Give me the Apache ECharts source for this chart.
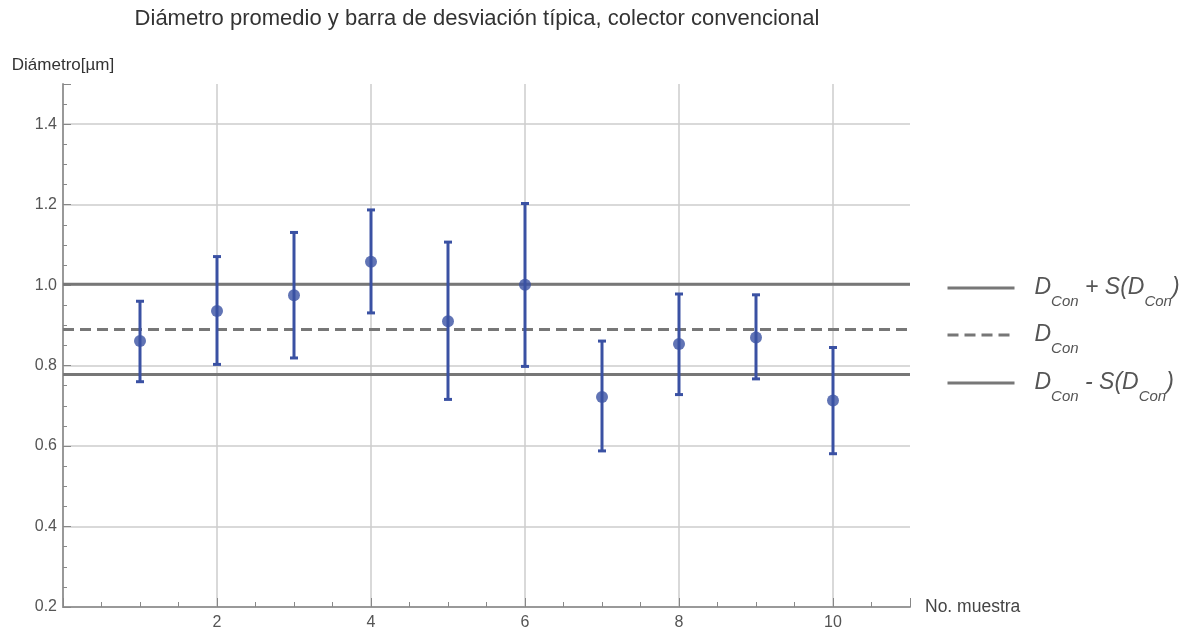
<!DOCTYPE html>
<html>
<head>
<meta charset="utf-8">
<script src="https://cdn.jsdelivr.net/npm/echarts@6/dist/echarts.min.js"></script>
<style>
html,body{margin:0;padding:0;background:#fff;}
#chart{width:1191px;height:631px;}
</style>
</head>
<body>
<div id="chart"></div>
<script>
// ---- data ----
const samples = [1, 2, 3, 4, 5, 6, 7, 8, 9, 10];
const means   = [0.861, 0.936, 0.975, 1.058, 0.910, 1.001, 0.722, 0.854, 0.870, 0.713];
const upper   = [0.960, 1.071, 1.131, 1.187, 1.107, 1.203, 0.861, 0.978, 0.976, 0.845];
const lower   = [0.760, 0.803, 0.819, 0.931, 0.716, 0.798, 0.588, 0.728, 0.767, 0.581];
const dCon = 0.890;
const dConPlus = 1.002;
const dConMinus = 0.778;
const xRange = [0, 11];
const yRange = [0.2, 1.5];

const title = 'Diámetro promedio y barra de desviación típica, colector convencional';
const yName = 'Diámetro[µm]';
const xName = 'No. muestra';

const BLUE = '#3a51a3';
const GRAY = '#777777';

const errData = samples.map((s, i) => [s, lower[i], upper[i]]);
const ptData = samples.map((s, i) => [s, means[i]]);
const hline = v => [[xRange[0], v], [xRange[1], v]];

const legendLabels = {
  plus: '{d|D}{s|Con}{o| + }{d|S(D}{s|Con}{d|)}',
  mean: '{d|D}{s|Con}',
  minus: '{d|D}{s|Con}{o| - }{d|S(D}{s|Con}{d|)}'
};
const rich = {
  d: {fontFamily: 'Liberation Sans', fontStyle: 'italic', fontSize: 23, color: '#555', lineHeight: 46, verticalAlign: 'middle'},
  o: {fontFamily: 'Liberation Sans', fontStyle: 'italic', fontSize: 23, color: '#555', lineHeight: 46, verticalAlign: 'middle'},
  s: {fontFamily: 'Liberation Sans', fontStyle: 'italic', fontSize: 15, color: '#555', lineHeight: 15, verticalAlign: 'middle', padding: [27, 0, 0, 0]}
};
function mkLegend(name, centerY) {
  return {
    data: [name], left: 946, top: centerY - 21, padding: 0,
    itemWidth: 67, itemHeight: 14, orient: 'vertical',
    selectedMode: false,
    itemStyle: {opacity: 0},
    lineStyle: {width: 3},
    formatter: n => legendLabels[n],
    textStyle: {rich: rich, padding: [0, 0, 0, 15]}
  };
}

const chart = echarts.init(document.getElementById('chart'), null, {renderer: 'canvas'});
chart.setOption({
  animation: false,
  backgroundColor: '#fff',
  title: {
    text: title, left: 472, top: 3, textAlign: 'center',
    textStyle: {fontFamily: 'Liberation Sans', fontWeight: 'normal', fontSize: 22, color: '#333'}
  },
  legend: [mkLegend('plus', 288), mkLegend('mean', 335), mkLegend('minus', 383)],
  grid: {left: 63, right: 281, top: 84, bottom: 24, containLabel: false},
  xAxis: {
    type: 'value', min: xRange[0], max: xRange[1], interval: 2,
    name: xName, nameLocation: 'end', nameGap: 15,
    nameTextStyle: {fontFamily: 'Liberation Sans', fontSize: 17.5, color: '#444', verticalAlign: 'middle'},
    axisLine: {show: true, onZero: false, lineStyle: {color: '#999', width: 2}},
    axisTick: {show: true, inside: true, length: 9, lineStyle: {color: '#888', width: 1}},
    minorTick: {show: true, splitNumber: 4, length: 5, lineStyle: {color: '#888', width: 1}},
    axisLabel: {
      fontFamily: 'Liberation Sans', fontSize: 16, color: '#555', margin: 8,
      showMinLabel: false, showMaxLabel: false,
      formatter: v => (v > 0 && v < 11 ? String(v) : '')
    },
    splitLine: {show: true, showMinLine: false, showMaxLine: false, lineStyle: {color: '#ccc', width: 1.5}}
  },
  yAxis: {
    type: 'value', min: yRange[0], max: yRange[1], interval: 0.2,
    name: yName, nameLocation: 'end', nameGap: 10,
    nameTextStyle: {fontFamily: 'Liberation Sans', fontSize: 17, color: '#333', align: 'center'},
    axisLine: {show: true, onZero: false, lineStyle: {color: '#999', width: 2}},
    axisTick: {show: true, inside: true, length: 8, lineStyle: {color: '#888', width: 1}},
    minorTick: {show: true, splitNumber: 4, length: 4, lineStyle: {color: '#888', width: 1}},
    axisLabel: {
      fontFamily: 'Liberation Sans', fontSize: 16, color: '#555', margin: 6,
      showMaxLabel: false,
      formatter: v => (v > 1.45 ? '' : v.toFixed(1))
    },
    splitLine: {show: true, showMinLine: false, showMaxLine: false, lineStyle: {color: '#ccc', width: 1.5}}
  },
  series: [
    {
      name: 'plus', type: 'line', data: hline(dConPlus), symbol: 'none', z: 2,
      lineStyle: {color: GRAY, width: 3}, itemStyle: {color: GRAY}, silent: true
    },
    {
      name: 'mean', type: 'line', data: hline(dCon), symbol: 'none', z: 2,
      lineStyle: {color: GRAY, width: 3, type: [11, 6]}, itemStyle: {color: GRAY}, silent: true
    },
    {
      name: 'minus', type: 'line', data: hline(dConMinus), symbol: 'none', z: 2,
      lineStyle: {color: GRAY, width: 3}, itemStyle: {color: GRAY}, silent: true
    },
    {
      name: 'err', type: 'custom', z: 3, data: errData,
      renderItem: function (params, api) {
        const x = api.value(0);
        const lo = api.coord([x, api.value(1)]);
        const hi = api.coord([x, api.value(2)]);
        const hw = 4;
        const st = {stroke: BLUE, lineWidth: 3};
        return {
          type: 'group',
          children: [
            {type: 'line', shape: {x1: lo[0], y1: lo[1], x2: hi[0], y2: hi[1]}, style: st},
            {type: 'line', shape: {x1: lo[0] - hw, y1: lo[1], x2: lo[0] + hw, y2: lo[1]}, style: st},
            {type: 'line', shape: {x1: hi[0] - hw, y1: hi[1], x2: hi[0] + hw, y2: hi[1]}, style: st}
          ]
        };
      }
    },
    {
      name: 'pts', type: 'scatter', z: 4, data: ptData, symbol: 'circle', symbolSize: 12,
      itemStyle: {color: BLUE}
    }
  ]
});
</script>
</body>
</html>
